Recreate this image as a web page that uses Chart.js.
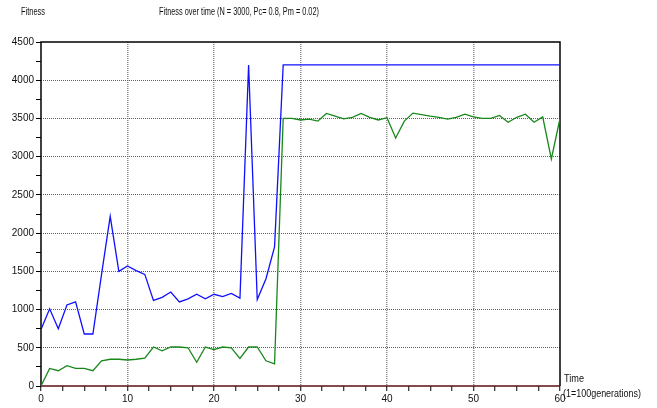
<!DOCTYPE html>
<html>
<head>
<meta charset="utf-8">
<script src="https://cdn.jsdelivr.net/npm/chart.js@4"></script>
<style>
  html, body { margin: 0; padding: 0; background: #fff; }
  #wrap { width: 657px; height: 408px; }
</style>
</head>
<body>
<div id="wrap"><canvas id="fitnessChart" width="657" height="408"></canvas></div>
<script>
// Generations (1 = 100 generations)
const gens = [0, 1, 2, 3, 4, 5, 6, 7, 8, 9, 10, 11, 12, 13, 14, 15, 16, 17, 18, 19, 20,
    21, 22, 23, 24, 25, 26, 27, 28, 29, 30, 31, 32, 33, 34, 35, 36, 37, 38, 39, 40,
    41, 42, 43, 44, 45, 46, 47, 48, 49, 50, 51, 52, 53, 54, 55, 56, 57, 58, 59, 60];

// Best fitness (blue)
const bestFitness = [740, 1010, 750, 1060, 1100, 680, 680, 1460, 2220, 1500, 1570,
    1510, 1460, 1120, 1160, 1230, 1100, 1140, 1200, 1140, 1200,
    1170, 1210, 1150, 4200, 1130, 1400, 1820, 4200, 4200, 4200,
    4200, 4200, 4200, 4200, 4200, 4200, 4200, 4200, 4200, 4200,
    4200, 4200, 4200, 4200, 4200, 4200, 4200, 4200, 4200, 4200,
    4200, 4200, 4200, 4200, 4200, 4200, 4200, 4200, 4200, 4200];

// Average fitness (green)
const avgFitness = [0, 230, 200, 265, 230, 230, 200, 330, 350, 350, 340,
    350, 365, 510, 460, 510, 510, 500, 310, 510, 475,
    510, 500, 360, 510, 510, 330, 290, 3500, 3500, 3480,
    3490, 3465, 3565, 3530, 3495, 3515, 3565, 3515, 3480, 3510,
    3245, 3465, 3570, 3550, 3530, 3515, 3490, 3515, 3555, 3520,
    3500, 3500, 3540, 3450, 3515, 3555, 3450, 3520, 2970, 3500];

const xLabelEvery = 10;
const yLabelEvery = 500;

const textFont = '10px "Liberation Sans", Arial, sans-serif';

// frame + free text labels
const decorations = {
    id: 'decorations',
    beforeDatasetsDraw(chart) {
        const { ctx, chartArea: a } = chart;
        ctx.save();
        ctx.strokeStyle = '#000';
        ctx.lineWidth = 1.5;
        ctx.beginPath();
        ctx.moveTo(a.left, a.bottom);
        ctx.lineTo(a.left, a.top);
        ctx.lineTo(a.right, a.top);
        ctx.lineTo(a.right, a.bottom);
        ctx.stroke();
        ctx.strokeStyle = '#5a1010';
        ctx.beginPath();
        ctx.moveTo(a.left, a.bottom);
        ctx.lineTo(a.right, a.bottom);
        ctx.stroke();
        ctx.restore();
    },
    afterDraw(chart) {
        const { ctx } = chart;
        ctx.save();
        ctx.fillStyle = '#111';
        ctx.font = textFont;
        ctx.textBaseline = 'middle';
        ctx.textAlign = 'left';
        ctx.fillText('Fitness', 21, 12, 24);
        ctx.fillText('Fitness over time (N = 3000, Pc= 0.8, Pm = 0.02)', 159, 12, 160);
        ctx.fillText('Time', 564, 379, 20);
        ctx.fillText('(1=100generations)', 563, 394, 78);
        ctx.restore();
    }
};

new Chart(document.getElementById('fitnessChart').getContext('2d'), {
    type: 'line',
    data: {
        datasets: [{
            label: 'Best',
            data: gens.map((g, i) => ({ x: g, y: bestFitness[i] })),
            borderColor: '#1010ff',
            borderWidth: 1.3,
            pointRadius: 0,
            tension: 0
        }, {
            label: 'Average',
            data: gens.map((g, i) => ({ x: g, y: avgFitness[i] })),
            borderColor: '#18881a',
            borderWidth: 1.3,
            pointRadius: 0,
            tension: 0
        }]
    },
    options: {
        responsive: false,
        animation: false,
        layout: { padding: { top: 42, right: 97, bottom: 0, left: 0 } },
        plugins: {
            legend: { display: false },
            tooltip: { enabled: false }
        },
        scales: {
            x: {
                type: 'linear',
                min: 0,
                max: 60,
                afterFit(scale) { scale.height = 22; },
                ticks: {
                    stepSize: 2.5,
                    autoSkip: false,
                    maxRotation: 0,
                    padding: 2,
                    color: '#111',
                    font: { size: 10, family: '"Liberation Sans", Arial, sans-serif' },
                    callback: v => (v % xLabelEvery === 0 ? v : '')
                },
                grid: {
                    color: c => (c.tick && c.tick.value % xLabelEvery === 0 && c.tick.value > 0 && c.tick.value < 60 ? '#8a8a8a' : 'rgba(0,0,0,0)'),
                    lineWidth: 1.5,
                    tickColor: '#000',
                    tickLength: 5,
                    tickWidth: 1
                },
                border: { display: false, dash: [1, 1] }
            },
            y: {
                min: 0,
                max: 4500,
                afterFit(scale) { scale.width = 41; },
                ticks: {
                    stepSize: 250,
                    autoSkip: false,
                    padding: 2,
                    color: '#111',
                    font: { size: 10, family: '"Liberation Sans", Arial, sans-serif' },
                    callback: v => (v % yLabelEvery === 0 ? v : '')
                },
                grid: {
                    color: c => (c.tick && c.tick.value % yLabelEvery === 0 && c.tick.value > 0 && c.tick.value < 4500 ? '#606060' : 'rgba(0,0,0,0)'),
                    lineWidth: 1,
                    tickColor: '#000',
                    tickLength: 5,
                    tickWidth: 1
                },
                border: { display: false, dash: [1, 1] }
            }
        }
    },
    plugins: [decorations]
});
</script>
</body>
</html>
